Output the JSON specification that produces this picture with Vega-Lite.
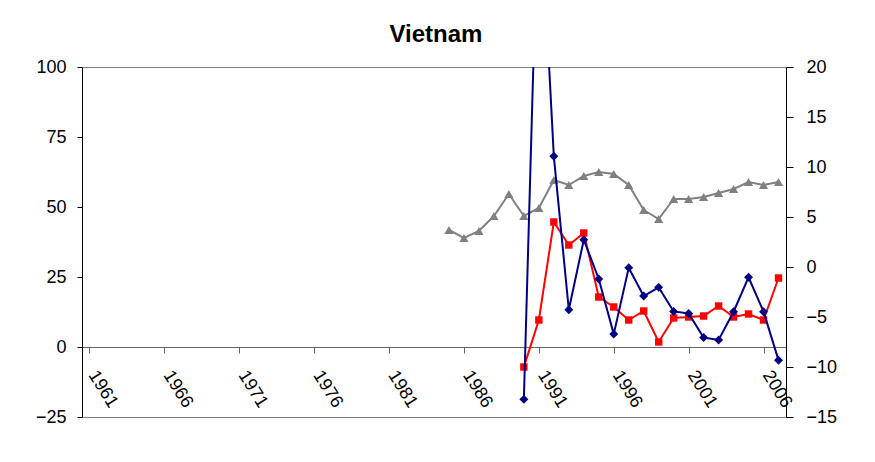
{
  "$schema": "https://vega.github.io/schema/vega-lite/v6.json",
  "width": 704,
  "height": 350,
  "autosize": {"type": "none"},
  "padding": {"left": 82, "top": 67, "right": 89, "bottom": 45},
  "background": "white",
  "title": {
    "text": "Vietnam",
    "font": "Liberation Sans",
    "fontSize": 24,
    "fontWeight": "bold",
    "color": "black",
    "anchor": "middle",
    "frame": "group",
    "offset": 11,
    "dx": 2
  },
  "config": {
    "view": {"stroke": "#808080", "strokeWidth": 1},
    "axis": {
      "labelFont": "Liberation Sans",
      "labelFontSize": 18,
      "labelColor": "black",
      "domainColor": "black",
      "tickColor": "black",
      "grid": false,
      "title": null
    }
  },
  "data": {
    "values": [
      {"year": 1985, "gray": 3.7, "red": null, "navy": null},
      {"year": 1986, "gray": 2.9, "red": null, "navy": null},
      {"year": 1987, "gray": 3.6, "red": null, "navy": null},
      {"year": 1988, "gray": 5.1, "red": null, "navy": null},
      {"year": 1989, "gray": 7.3, "red": null, "navy": null},
      {"year": 1990, "gray": 5.1, "red": -10.0, "navy": -18.7},
      {"year": 1991, "gray": 5.9, "red": -5.3, "navy": 170},
      {"year": 1992, "gray": 8.7, "red": 4.5, "navy": 68.1},
      {"year": 1993, "gray": 8.2, "red": 2.2, "navy": 13.3},
      {"year": 1994, "gray": 9.1, "red": 3.4, "navy": 38.3},
      {"year": 1995, "gray": 9.5, "red": -3.0, "navy": 24.3},
      {"year": 1996, "gray": 9.3, "red": -4.0, "navy": 4.6},
      {"year": 1997, "gray": 8.2, "red": -5.3, "navy": 28.3},
      {"year": 1998, "gray": 5.7, "red": -4.4, "navy": 18.2},
      {"year": 1999, "gray": 4.8, "red": -7.5, "navy": 21.3},
      {"year": 2000, "gray": 6.8, "red": -5.1, "navy": 12.7},
      {"year": 2001, "gray": 6.8, "red": -5.0, "navy": 12.0},
      {"year": 2002, "gray": 7.0, "red": -4.9, "navy": 3.4},
      {"year": 2003, "gray": 7.4, "red": -3.9, "navy": 2.5},
      {"year": 2004, "gray": 7.8, "red": -5.0, "navy": 12.6},
      {"year": 2005, "gray": 8.5, "red": -4.7, "navy": 24.9},
      {"year": 2006, "gray": 8.2, "red": -5.3, "navy": 12.6},
      {"year": 2007, "gray": 8.5, "red": -1.1, "navy": -4.7}
    ]
  },
  "encoding": {
    "x": {
      "field": "year",
      "type": "ordinal",
      "scale": {
        "domain": [1961, 1962, 1963, 1964, 1965, 1966, 1967, 1968, 1969, 1970,
                   1971, 1972, 1973, 1974, 1975, 1976, 1977, 1978, 1979, 1980,
                   1981, 1982, 1983, 1984, 1985, 1986, 1987, 1988, 1989, 1990,
                   1991, 1992, 1993, 1994, 1995, 1996, 1997, 1998, 1999, 2000,
                   2001, 2002, 2003, 2004, 2005, 2006, 2007],
        "paddingInner": 0,
        "paddingOuter": 0
      },
      "axis": {
        "values": [1961, 1966, 1971, 1976, 1981, 1986, 1991, 1996, 2001, 2006],
        "bandPosition": 0,
        "offset": -70,
        "domainColor": "#666666",
        "tickColor": "#666666",
        "tickSize": 6,
        "labelAngle": 58,
        "labelAlign": "left",
        "labelBaseline": "top",
        "labelOffset": 10,
        "labelPadding": 14,
        "labelOverlap": false,
        "labelFlush": false,
        "labelBound": false
      }
    }
  },
  "layer": [
    {
      "encoding": {
        "y": {
          "type": "quantitative",
          "scale": {"domain": [-15, 20], "nice": false, "zero": false},
          "axis": {
            "orient": "right",
            "values": [-15, -10, -5, 0, 5, 10, 15, 20],
            "tickSize": 7,
            "labelPadding": 13
          }
        }
      },
      "layer": [
        {
          "mark": {"type": "line", "color": "#808080", "strokeWidth": 2, "clip": true},
          "encoding": {"y": {"field": "gray", "type": "quantitative"}}
        },
        {
          "mark": {"type": "point", "shape": "triangle-up", "size": 85, "filled": true, "opacity": 1, "color": "#808080", "clip": true},
          "encoding": {"y": {"field": "gray", "type": "quantitative"}}
        },
        {
          "mark": {"type": "line", "color": "#FF0000", "strokeWidth": 2, "clip": true},
          "encoding": {"y": {"field": "red", "type": "quantitative"}}
        },
        {
          "mark": {"type": "point", "shape": "square", "size": 55, "filled": true, "opacity": 1, "color": "#FF0000", "clip": true},
          "encoding": {"y": {"field": "red", "type": "quantitative"}}
        }
      ]
    },
    {
      "encoding": {
        "y": {
          "type": "quantitative",
          "scale": {"domain": [-25, 100], "nice": false, "zero": false},
          "axis": {
            "orient": "left",
            "values": [-25, 0, 25, 50, 75, 100],
            "tickSize": 5,
            "labelPadding": 11
          }
        }
      },
      "layer": [
        {
          "mark": {"type": "line", "color": "#000080", "strokeWidth": 2, "clip": true},
          "encoding": {"y": {"field": "navy", "type": "quantitative"}}
        },
        {
          "mark": {"type": "point", "shape": "diamond", "size": 80, "filled": true, "opacity": 1, "color": "#000080", "clip": true},
          "encoding": {"y": {"field": "navy", "type": "quantitative"}}
        }
      ]
    }
  ],
  "resolve": {"scale": {"y": "independent"}, "axis": {"y": "independent"}}
}
